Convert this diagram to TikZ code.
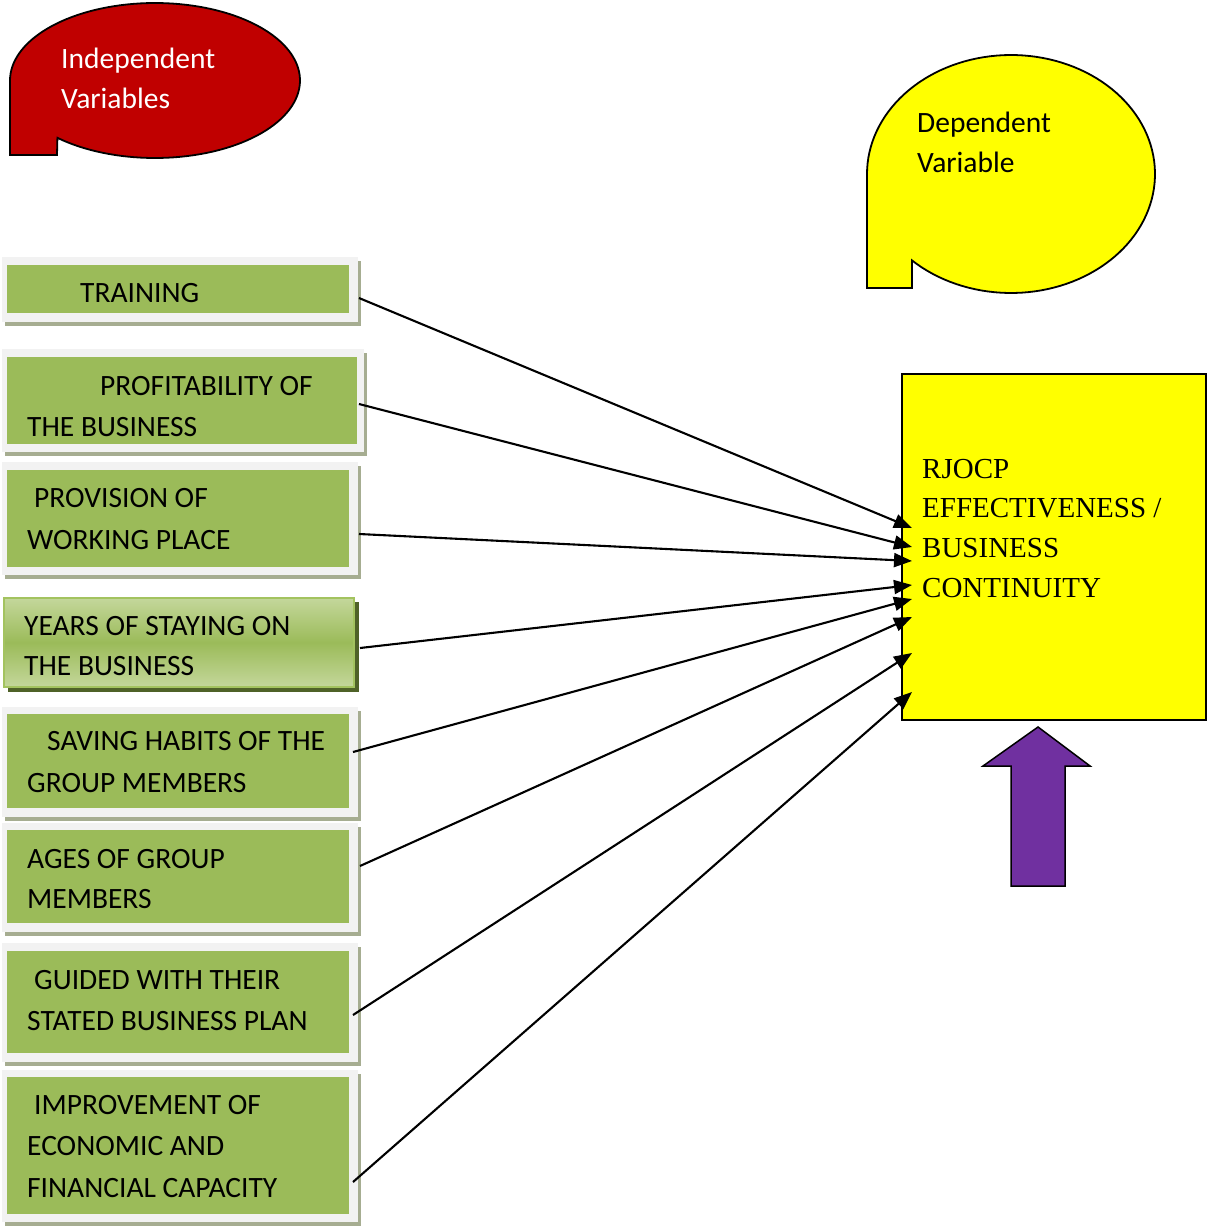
\documentclass[tikz,border=0pt]{standalone}
\usepackage{fontspec}
\setmainfont{Carlito}
\newfontfamily\tnrfont{Liberation Serif}
\usetikzlibrary{arrows.meta}
\definecolor{grn}{HTML}{9BBB59}
\definecolor{grnlight}{HTML}{C4D79B}
\definecolor{grnedge}{HTML}{A3C35F}
\definecolor{frm}{HTML}{F2F2F2}
\definecolor{shd}{HTML}{A6AD91}
\definecolor{dkshd}{HTML}{4F6228}
\definecolor{redc}{HTML}{C00000}
\definecolor{purp}{HTML}{7030A0}
\definecolor{yel}{HTML}{FFFF00}
% name, outer top, outer bottom, outer right, inner top, inner bottom, inner right
\newcommand{\gbox}[7]{%
  \fill[shd] (5,#2+4) rectangle (#4+3,#3+4);
  \fill[frm] (2,#2) rectangle (#4,#3);
  \node[gbx, minimum width={#7-7}, minimum height={#6-#5}] (#1) at ({(7+#7)/2},{(#5+#6)/2}) {};
}
\begin{document}
\begin{tikzpicture}[x=1pt,y=-1pt,
  gbx/.style={fill=grn, inner sep=0pt, outer sep=0pt},
  lbl/.style={anchor=base west, inner sep=0pt, font=\fontsize{29.5}{35}\selectfont},
  tlbl/.style={anchor=base west, inner sep=0pt, font=\tnrfont\fontsize{29}{35}\selectfont},
  conn/.style={line width=2.1pt, -{Triangle[length=18pt,width=14pt]}},
  callout/.style={line width=1.8pt, draw=black}]
\useasboundingbox (0,0) rectangle (1207,1226);

% ---- callouts
\draw[callout, fill=redc] (10,155) -- plot[domain=-180:132.3, samples=120] ({155+145*cos(\x)},{80.5+77.5*sin(\x)}) -- (57,155) -- cycle;
\node[lbl, text=white] (iv1) at (61,68) {Independent};
\node[lbl, text=white] (iv2) at (61,108) {Variables};

\draw[callout, fill=yel] (867,288) -- plot[domain=-180:133.4, samples=120] ({1011+144*cos(\x)},{174+119*sin(\x)}) -- (912,288) -- cycle;
\node[lbl] (dv1) at (917,132) {Dependent};
\node[lbl] (dv2) at (917,172) {Variable};

% ---- green boxes
\gbox{b1}{257}{322}{358}{265}{313}{349}
\node[lbl] (b1a) at (80,302) {TRAINING};

\gbox{b2}{349}{452}{364}{357}{444}{357}
\node[lbl] (b2a) at (100,395) {PROFITABILITY OF};
\node[lbl] (b2b) at (27,436) {THE BUSINESS};

\gbox{b3}{462}{575}{358}{470}{567}{349}
\node[lbl] (b3a) at (34,507) {PROVISION OF};
\node[lbl] (b3b) at (27,549) {WORKING PLACE};

% years box (gradient style)
\fill[dkshd] (8,602) rectangle (359,692);
\node[draw=grnedge, line width=2pt, top color=grnlight, bottom color=grnlight, middle color=grn,
      inner sep=0pt, minimum width=350, minimum height=89] (b4) at (179,642.5) {};
\node[lbl] (b4a) at (24,635) {YEARS OF STAYING ON};
\node[lbl] (b4b) at (24,675) {THE BUSINESS};

\gbox{b5}{707}{817}{358}{714}{808}{349}
\node[lbl] (b5a) at (47,750) {SAVING HABITS OF THE};
\node[lbl] (b5b) at (27,792) {GROUP MEMBERS};

\gbox{b6}{823}{932}{358}{830}{923}{349}
\node[lbl] (b6a) at (27,868) {AGES OF GROUP};
\node[lbl] (b6b) at (27,908) {MEMBERS};

\gbox{b7}{943}{1062}{358}{951}{1053}{349}
\node[lbl] (b7a) at (34,989) {GUIDED WITH THEIR};
\node[lbl] (b7b) at (27,1030) {STATED BUSINESS PLAN};

\gbox{b8}{1070}{1222}{358}{1077}{1214}{349}
\node[lbl] (b8a) at (34,1114) {IMPROVEMENT OF};
\node[lbl] (b8b) at (27,1155) {ECONOMIC AND};
\node[lbl] (b8c) at (27,1197) {FINANCIAL CAPACITY};

% ---- dependent box
\node[draw=black, fill=yel, line width=1.8pt, inner sep=0pt, minimum width=304, minimum height=346] (dv) at (1054,547) {};
\node[tlbl] (dva) at (922,478) {RJOCP};
\node[tlbl] (dvb) at (922,517) {EFFECTIVENESS /};
\node[tlbl] (dvc) at (922,557) {BUSINESS};
\node[tlbl] (dvd) at (922,597) {CONTINUITY};

% ---- purple arrow
\draw[fill=purp, line width=1.5pt, line join=miter] (1038,727) -- (1090,766) -- (1065,766) -- (1065,886) -- (1011,886) -- (1011,766) -- (983,766) -- cycle;

% ---- connectors
\coordinate (s1) at (359,298);  \coordinate (t1) at (912,528);
\coordinate (s2) at (359,404);  \coordinate (t2) at (912,547);
\coordinate (s3) at (359,534);  \coordinate (t3) at (912,561);
\coordinate (s4) at (360,648);  \coordinate (t4) at (912,585);
\coordinate (s5) at (353,752);  \coordinate (t5) at (912,599);
\coordinate (s6) at (360,866);  \coordinate (t6) at (912,617);
\coordinate (s7) at (353,1015); \coordinate (t7) at (912,653);
\coordinate (s8) at (353,1182); \coordinate (t8) at (912,692);
\foreach \i in {1,...,8}{\draw[conn] (s\i) -- (t\i);}
\end{tikzpicture}
\end{document}
